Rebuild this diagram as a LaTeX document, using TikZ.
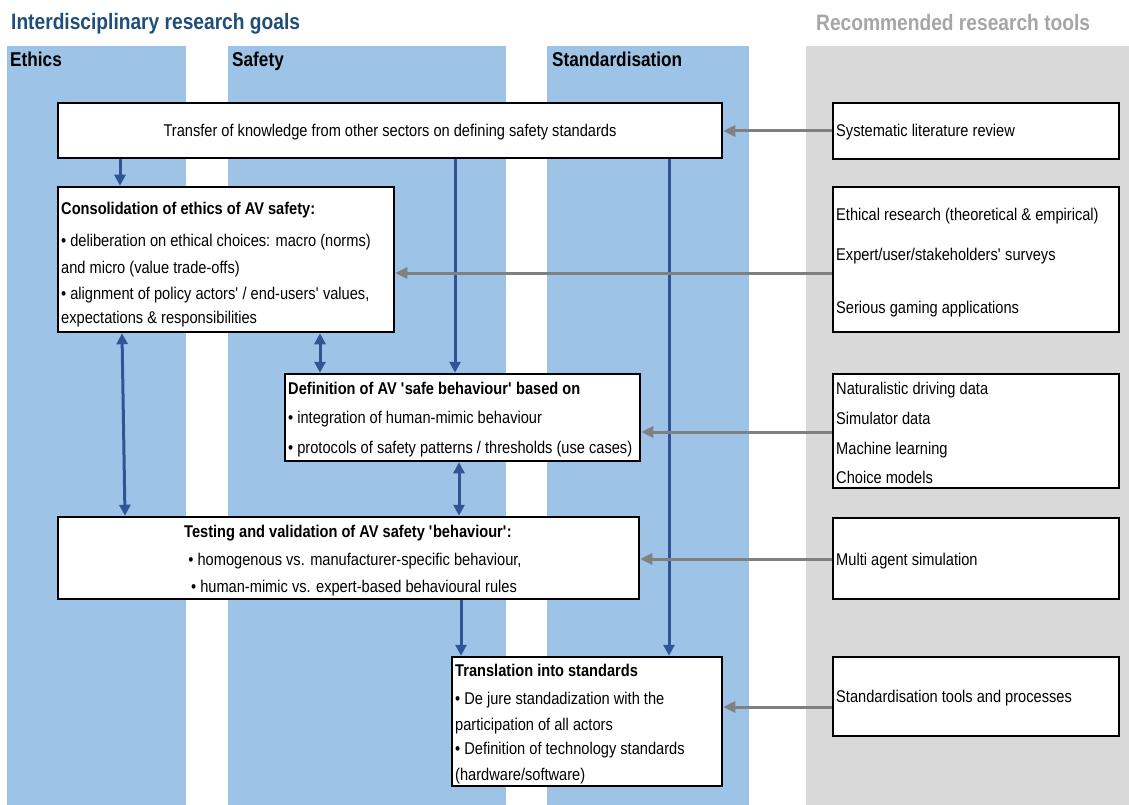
\documentclass[tikz,border=0pt]{standalone}
\usepackage{fontspec}
\setmainfont{Liberation Sans}[FakeStretch=0.86]
\usetikzlibrary{arrows.meta,fit}
\definecolor{colblue}{HTML}{9DC3E6}
\definecolor{colgray}{HTML}{D9D9D9}
\definecolor{arrblue}{HTML}{2F5597}
\definecolor{arrgray}{HTML}{808080}
\definecolor{titleblue}{HTML}{1F4E79}
\definecolor{titlegray}{HTML}{A6A6A6}
\newcommand{\q}{\textquotesingle}
\begin{document}
\begin{tikzpicture}[x=1pt,y=-1pt,
  box/.style={draw=black, line width=2.5pt, fill=white, inner sep=0pt},
  txt/.style={anchor=base west, inner sep=0pt, font=\fontsize{17}{20}\selectfont},
  ctxt/.style={anchor=base, inner sep=0pt, font=\fontsize{17}{20}\selectfont},
  btxt/.style={anchor=base west, inner sep=0pt, font=\fontsize{17}{20}\selectfont\bfseries},
  cbtxt/.style={anchor=base, inner sep=0pt, font=\fontsize{17}{20}\selectfont\bfseries},
  header/.style={anchor=base west, inner sep=0pt, font=\fontsize{20}{24}\selectfont\bfseries},
  bigtitle/.style={anchor=base west, inner sep=0pt, font=\fontsize{22.3}{26}\selectfont\bfseries},
  bluearr/.style={draw=arrblue, line width=3pt, arrows={-Triangle[length=11pt,width=11pt]}},
  bluedbl/.style={draw=arrblue, line width=3pt, arrows={Triangle[length=11pt,width=11pt]-Triangle[length=11pt,width=11pt]}},
  grayarr/.style={draw=arrgray, line width=3pt, arrows={-Triangle[length=12pt,width=11pt]}}
]
\useasboundingbox (0,0) rectangle (1129,805);
\fill[white] (0,0) rectangle (1129,805);

% columns
\fill[colblue] (7,46) rectangle (186,805);
\fill[colblue] (228,46) rectangle (506,805);
\fill[colblue] (547,46) rectangle (749,805);
\fill[colgray] (806,46) rectangle (1129,805);

% titles
\node[bigtitle, text=titleblue] (t1) at (11,30) {Interdisciplinary research goals};
\node[bigtitle, text=titlegray] (t2) at (816,31) {Recommended research tools};
\node[header] (h1) at (10,67) {Ethics};
\node[header] (h2) at (232,67) {Safety};
\node[header] (h3) at (552,67) {Standardisation};

% goal boxes
\node[box, fit={(58,103)(722,158)}] (transfer) {};
\node[ctxt] (transferT) at (390,136.5) {Transfer of knowledge from other sectors on defining safety standards};

\node[box, fit={(58,187)(394,332)}] (consol) {};
\node[btxt] (consolT) at (61,214.5) {Consolidation of ethics of AV safety:};
\node[txt] (consol1) at (61,246.5) {\textbullet\ deliberation on ethical choices: macro (norms)};
\node[txt] (consol2) at (61,273.5) {and micro (value trade-offs)};
\node[txt] (consol3) at (61,299.5) {\textbullet\ alignment of policy actors\q{} / end-users\q{} values,};
\node[txt] (consol4) at (61,323.5) {expectations \& responsibilities};

\node[box, fit={(285,374)(640,461)}] (defin) {};
\node[btxt] (definT) at (288,394.5) {Definition of AV \q{}safe behaviour\q{} based on};
\node[txt] (defin1) at (288,423.5) {\textbullet\ integration of human-mimic behaviour};
\node[txt] (defin2) at (288,453.5) {\textbullet\ protocols of safety patterns / thresholds (use cases)};

\node[box, fit={(58,517)(639,599)}] (testing) {};
\node[cbtxt] (testingT) at (348,537.5) {Testing and validation of AV safety \q{}behaviour\q{}:};
\node[ctxt] (testing1) at (355,565.5) {\textbullet\ homogenous vs. manufacturer-specific behaviour,};
\node[ctxt] (testing2) at (354,592.5) {\textbullet\ human-mimic vs. expert-based behavioural rules};

\node[box, fit={(452,657)(722,786)}] (transl) {};
\node[btxt] (translT) at (455,676.5) {Translation into standards};
\node[txt] (transl1) at (455,704) {\textbullet\ De jure standadization with the};
\node[txt] (transl2) at (455,730.5) {participation of all actors};
\node[txt] (transl3) at (455,754) {\textbullet\ Definition of technology standards};
\node[txt] (transl4) at (455,780.5) {(hardware/software)};

% tool boxes
\node[box, fit={(833,103)(1119,159)}] (tool1) {};
\node[txt] (tool1a) at (836,137) {Systematic literature review};

\node[box, fit={(833,187)(1119,332)}] (tool2) {};
\node[txt] (tool2a) at (836,220.5) {Ethical research (theoretical \& empirical)};
\node[txt] (tool2b) at (836,260) {Expert/user/stakeholders\q{} surveys};
\node[txt] (tool2c) at (836,313.5) {Serious gaming applications};

\node[box, fit={(833,374)(1119,488)}] (tool3) {};
\node[txt] (tool3a) at (836,394.5) {Naturalistic driving data};
\node[txt] (tool3b) at (836,424.5) {Simulator data};
\node[txt] (tool3c) at (836,454.5) {Machine learning};
\node[txt] (tool3d) at (836,483) {Choice models};

\node[box, fit={(833,518)(1119,599)}] (tool4) {};
\node[txt] (tool4a) at (836,565.5) {Multi agent simulation};

\node[box, fit={(833,657)(1119,736)}] (tool5) {};
\node[txt] (tool5a) at (836,702.5) {Standardisation tools and processes};

% x / y guides for connectors
\coordinate (xa) at (120,0);
\coordinate (xb) at (455,0);
\coordinate (xc) at (669,0);
\coordinate (xd1) at (122,0);
\coordinate (xd2) at (125,0);
\coordinate (xe) at (320,0);
\coordinate (xf) at (459,0);
\coordinate (xg) at (461,0);
\coordinate (y2) at (0,273);
\coordinate (y3) at (0,432);
\coordinate (y4) at (0,559);
\coordinate (y5) at (0,707);

% blue connectors
\draw[bluearr] (transfer.south -| xa) -- (consol.north -| xa);
\draw[bluearr] (transfer.south -| xb) -- (defin.north -| xb);
\draw[bluearr] (transfer.south -| xc) -- (transl.north -| xc);
\draw[bluedbl] (consol.south -| xd1) -- (testing.north -| xd2);
\draw[bluedbl] (consol.south -| xe) -- (defin.north -| xe);
\draw[bluedbl] (defin.south -| xf) -- (testing.north -| xf);
\draw[bluearr] (testing.south -| xg) -- (transl.north -| xg);

% gray connectors
\draw[grayarr] (tool1.west) -- (transfer.east |- tool1.west);
\draw[grayarr] (tool2.west |- y2) -- (consol.east |- y2);
\draw[grayarr] (tool3.west |- y3) -- (defin.east |- y3);
\draw[grayarr] (tool4.west |- y4) -- (testing.east |- y4);
\draw[grayarr] (tool5.west |- y5) -- (transl.east |- y5);
\end{tikzpicture}
\end{document}
